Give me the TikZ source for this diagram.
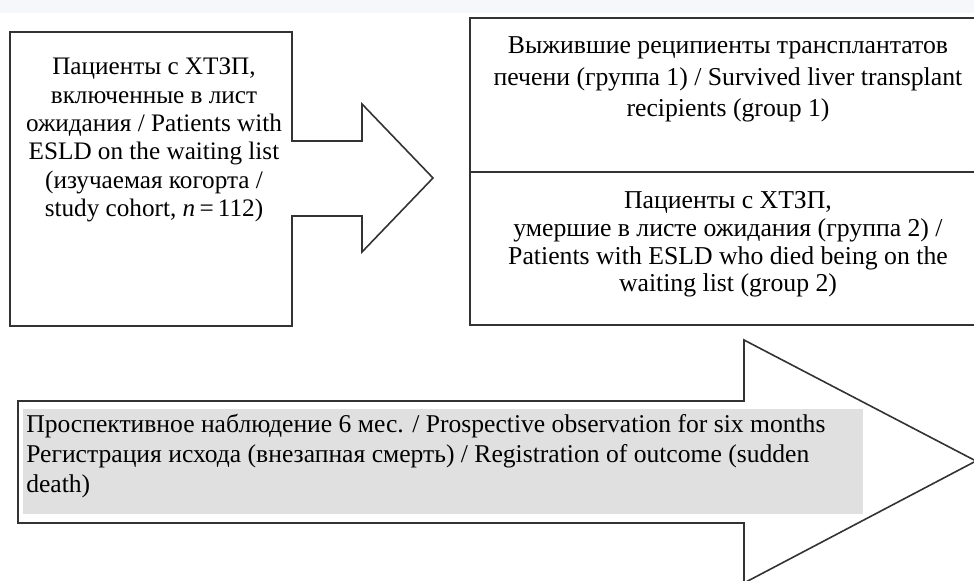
\documentclass[tikz,border=0pt]{standalone}
\usepackage{fontspec}
\setmainfont{Liberation Serif}
\definecolor{bandgray}{HTML}{F6F7FB}
\definecolor{textgray}{HTML}{E0E0E0}
\definecolor{edge}{HTML}{333333}
\tikzset{
  outline/.style={draw=edge, line width=1.2pt},
  label/.style={align=center, inner sep=0pt, font=\fontsize{19.3}{21.2}\selectfont},
}
\begin{document}
\begin{tikzpicture}[x=0.75pt, y=-0.75pt]
    \useasboundingbox (0,0) rectangle (974,581);
    \fill[bandgray] (0,0) rectangle (974,13);
    % cohort box with its arrow
    \draw[outline] (10,32) -- (292,32) -- (292,141) -- (362,141) -- (362,104) -- (433,178)
        -- (362,252) -- (362,216) -- (292,216) -- (292,326) -- (10,326) -- cycle;
    \node[label, font=\fontsize{18.9}{21.2}\selectfont] (cohort) at (154,140)
        {Пациенты с ХТЗП,\\ включенные в лист\\ ожидания / Patients with\\
        ESLD on the waiting list\\ (изучаемая когорта /\\ study cohort, \textit{n}\,=\,112)};
    % outcome groups
    \draw[outline] (470,18) rectangle (988,325);
    \draw[outline] (470,172) -- (988,172);
    \node[label, font=\fontsize{19.3}{23.6}\selectfont] (group1) at (728,79.5)
        {Выжившие реципиенты трансплантатов\\
        печени (группа 1) / Survived liver transplant\\ recipients (group 1)};
    \node[label, font=\fontsize{19.3}{20.8}\selectfont] (group2) at (728,244.5)
        {Пациенты с ХТЗП,\\ умершие в листе ожидания (группа 2) /\\
        Patients with ESLD who died being on the\\ waiting list (group 2)};
    % observation arrow
    \draw[outline] (18,401) -- (744,401) -- (744,340) -- (976,461) -- (744,583) -- (744,523)
        -- (18,523) -- cycle;
    \fill[textgray] (23,409) rectangle (863,514);
    \node[label, align=left, anchor=north west, font=\fontsize{19.2}{22.5}\selectfont]
        (observation) at (26,414)
        {Проспективное наблюдение 6 мес. / Prospective observation for six months\\
        Регистрация исхода (внезапная смерть) / Registration of outcome (sudden\\ death)};
\end{tikzpicture}
\end{document}
